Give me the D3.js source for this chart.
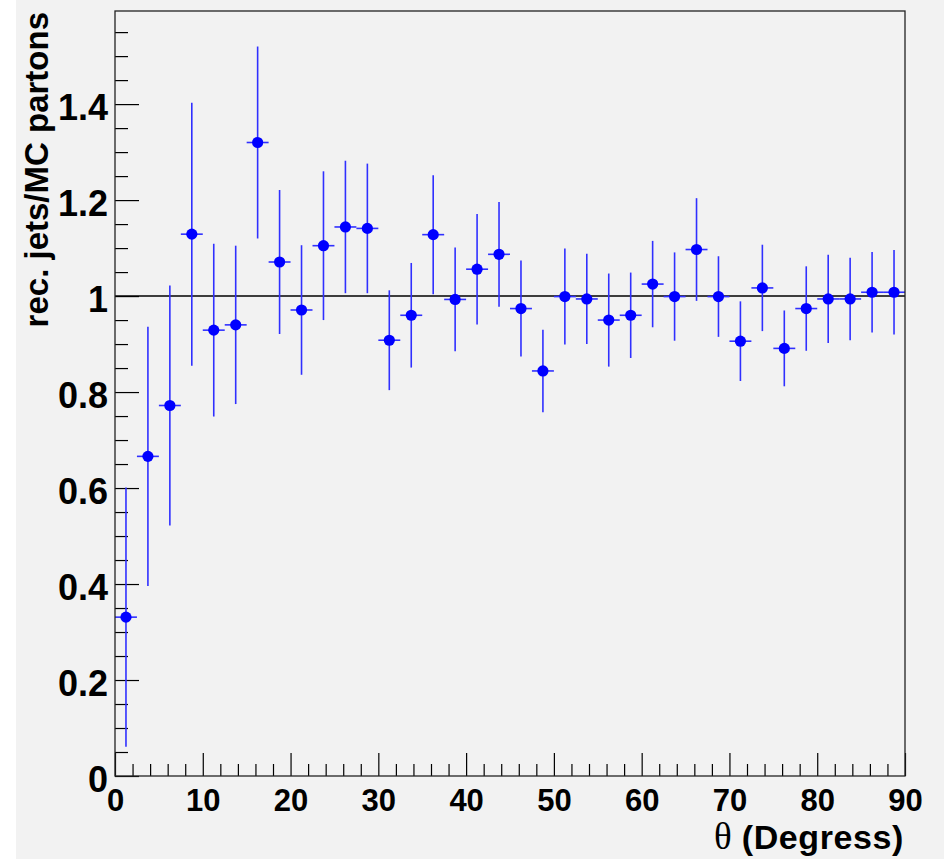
<!DOCTYPE html>
<html>
  <head>
    <title>rec. jets / MC partons vs theta</title>
    <script type="text/javascript" src="https://d3js.org/d3.v7.min.js"></script>
    <style>
      body { margin: 0; background: #f2f2f2; }
      text { font-family: "Liberation Sans", Arial, sans-serif; font-weight: bold; fill: #000; }
      .tick line { stroke: #000; stroke-width: 1.2; }
    </style>
  </head>

  <body>
    <svg width="944" height="859" class="ratio"></svg>

    <script type="text/javascript">
      // bin centres in degrees (2.5 deg bins)
      var theta = [1.25, 3.75, 6.25, 8.75, 11.25, 13.75, 16.25, 18.75, 21.25, 23.75,
                   26.25, 28.75, 31.25, 33.75, 36.25, 38.75, 41.25, 43.75, 46.25, 48.75,
                   51.25, 53.75, 56.25, 58.75, 61.25, 63.75, 66.25, 68.75, 71.25, 73.75,
                   76.25, 78.75, 81.25, 83.75, 86.25, 88.75];
      var halfBin = [1.25];
      var ratio = [0.331, 0.666, 0.772, 1.129, 0.929, 0.940, 1.320, 1.071, 0.971, 1.105,
                   1.144, 1.141, 0.908, 0.960, 1.128, 0.993, 1.056, 1.087, 0.974, 0.844,
                   0.999, 0.994, 0.950, 0.960, 1.025, 0.999, 1.097, 0.999, 0.906, 1.017,
                   0.891, 0.974, 0.994, 0.994, 1.008, 1.008];
      var err = [0.270, 0.270, 0.250, 0.274, 0.180, 0.165, 0.200, 0.150, 0.135, 0.155,
                 0.138, 0.135, 0.104, 0.109, 0.124, 0.108, 0.115, 0.109, 0.100, 0.086,
                 0.100, 0.094, 0.097, 0.089, 0.090, 0.092, 0.107, 0.084, 0.083, 0.090,
                 0.079, 0.088, 0.092, 0.086, 0.084, 0.088];
      var xMajor = [0, 10, 20, 30, 40, 50, 60, 70, 80, 90];
      var yMajor = [0, 0.2, 0.4, 0.6, 0.8, 1, 1.2, 1.4];
      var yLabels = ['0', '0.2', '0.4', '0.6', '0.8', '1', '1.2', '1.4'];

      var points = theta.map(function(t, i) {
        return { x: t, y: ratio[i], e: err[i] };
      });

      // frame edges (note: "top" is reserved on window, so prefix these)
      var fLeft = 115, fRight = 905, fTop = 11, fBottom = 776;
      var x = d3.scaleLinear().domain([0, 90]).range([fLeft, fRight]);
      var y = d3.scaleLinear().domain([0, 1.594]).range([fBottom, fTop]);

      var svg = d3.select('svg.ratio');
      svg.append('rect').attr('width', 944).attr('height', 859).attr('fill', '#f2f2f2');
      svg.append('rect').attr('width', 16).attr('height', 859).attr('fill', '#ffffff');

      // minor ticks
      var xMinor = d3.range(0, 91, 2).filter(function(v) { return v % 10 !== 0; });
      var yMinor = d3.range(0, 1.56, 0.05).map(function(v) { return +v.toFixed(2); })
                     .filter(function(v) { return Math.round(v * 100) % 20 !== 0; });

      svg.append('g')
         .attr('transform', 'translate(0,' + fBottom + ')')
         .call(d3.axisBottom(x).tickValues(xMinor).tickSize(-12).tickFormat(''))
         .call(function(g) { g.select('.domain').remove(); });
      svg.append('g')
         .attr('transform', 'translate(' + fLeft + ',0)')
         .call(d3.axisLeft(y).tickValues(yMinor).tickSize(-13).tickFormat(''))
         .call(function(g) { g.select('.domain').remove(); });

      // major ticks + labels
      var gx = svg.append('g')
         .attr('transform', 'translate(0,' + fBottom + ')')
         .call(d3.axisBottom(x).tickValues(xMajor).tickSize(-23).tickFormat(d3.format('d')));
      gx.select('.domain').remove();
      gx.selectAll('text')
        .attr('y', 34.5).attr('dy', null)
        .style('font-size', '31px').style('font-family', '"Liberation Sans", Arial, sans-serif')
        .style('font-weight', 'bold');

      var gy = svg.append('g')
         .attr('transform', 'translate(' + fLeft + ',0)')
         .call(d3.axisLeft(y).tickValues(yMajor).tickSize(-24)
                 .tickFormat(function(d, i) { return yLabels[i]; }));
      gy.select('.domain').remove();
      gy.selectAll('text')
        .attr('x', -7).attr('dy', null).attr('y', 15.5)
        .style('font-size', '36px').style('font-family', '"Liberation Sans", Arial, sans-serif')
        .style('font-weight', 'bold');

      // reference line at 1
      svg.append('line')
         .attr('x1', fLeft).attr('x2', fRight)
         .attr('y1', y(1)).attr('y2', y(1))
         .attr('stroke', '#000').attr('stroke-width', 1.5);

      // error bars
      var marks = svg.append('g');
      marks.selectAll('line.ey')
           .data(points).enter().append('line')
           .attr('class', 'ey')
           .attr('x1', function(d) { return x(d.x); })
           .attr('x2', function(d) { return x(d.x); })
           .attr('y1', function(d) { return y(d.y - d.e); })
           .attr('y2', function(d) { return y(d.y + d.e); })
           .attr('stroke', '#3030ff').attr('stroke-width', 1.6);
      marks.selectAll('line.ex')
           .data(points).enter().append('line')
           .attr('class', 'ex')
           .attr('x1', function(d) { return x(d.x - halfBin[0]); })
           .attr('x2', function(d) { return x(d.x + halfBin[0]); })
           .attr('y1', function(d) { return y(d.y); })
           .attr('y2', function(d) { return y(d.y); })
           .attr('stroke', '#3030ff').attr('stroke-width', 1.6);
      marks.selectAll('circle')
           .data(points).enter().append('circle')
           .attr('cx', function(d) { return x(d.x); })
           .attr('cy', function(d) { return y(d.y); })
           .attr('r', 5.6)
           .attr('fill', '#0000ff');

      // frame
      svg.append('rect')
         .attr('x', fLeft).attr('y', fTop)
         .attr('width', fRight - fLeft).attr('height', fBottom - fTop)
         .attr('fill', 'none').attr('stroke', '#222').attr('stroke-width', 1.3);

      // axis titles
      var xt = svg.append('text')
         .attr('x', 904).attr('y', 849)
         .attr('text-anchor', 'end')
         .style('font-size', '34px');
      xt.append('tspan').text('θ')
        .style('font-family', '"Liberation Serif", "DejaVu Serif", serif')
        .style('font-weight', 'normal')
        .style('font-size', '37px');
      xt.append('tspan').text(' (Degress)').style('letter-spacing', '0.6px');

      svg.append('text')
         .attr('transform', 'translate(48,12) rotate(-90)')
         .attr('text-anchor', 'end')
         .style('font-size', '33px')
         .text('rec. jets/MC partons');
    </script>
  </body>
</html>
